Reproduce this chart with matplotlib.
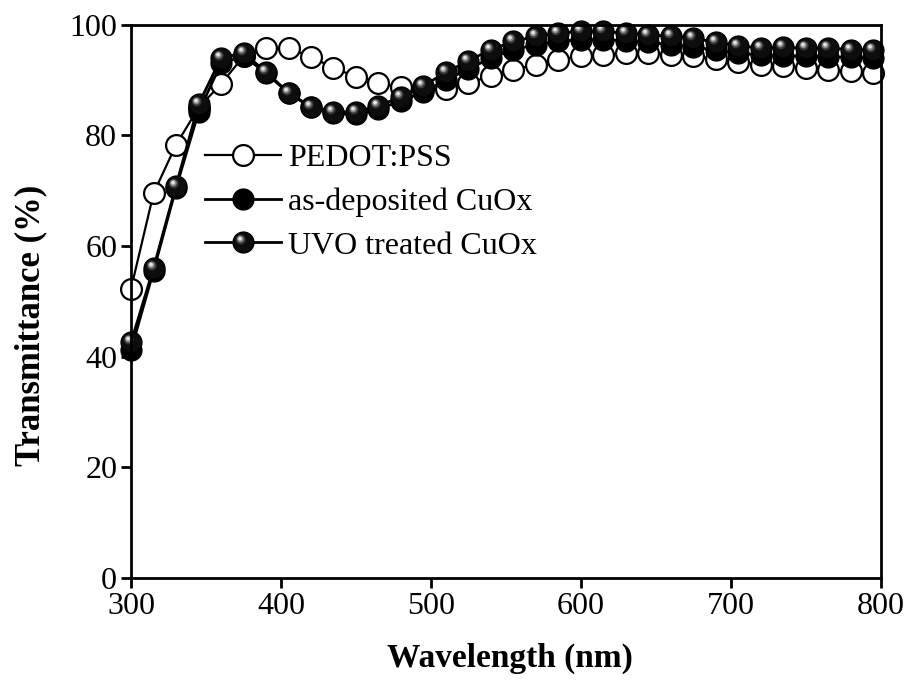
import numpy as np
import matplotlib
matplotlib.use("Agg")
import matplotlib.pyplot as plt
from matplotlib.path import Path
from matplotlib.markers import MarkerStyle
from matplotlib.legend_handler import HandlerTuple

plt.rcParams['font.family'] = ['Liberation Serif', 'DejaVu Serif']

wavelength = np.arange(300, 800, 15)  # 300 ... 795 nm, one marker every 15 nm

pedot = [52.3, 69.5, 78.3, 85.0, 89.3, 94.3, 95.8, 95.8, 94.2, 92.2, 90.6, 89.4,
         88.7, 88.4, 88.4, 89.5, 90.7, 91.9, 92.8, 93.7, 94.3, 94.6, 94.9, 94.9,
         94.6, 94.3, 93.8, 93.2, 92.8, 92.5, 92.2, 91.9, 91.6, 91.3]

as_deposited = [41.2, 55.5, 70.5, 84.2, 93.0, 94.3, 91.3, 87.6, 85.1, 84.0, 83.8, 84.8,
                86.2, 87.9, 90.0, 92.0, 94.0, 95.5, 96.4, 97.0, 97.3, 97.3, 97.1, 96.8,
                96.4, 96.0, 95.4, 94.9, 94.5, 94.4, 94.3, 94.2, 94.1, 94.0]

uvo_treated = [42.6, 56.0, 70.9, 85.6, 94.0, 94.9, 91.5, 87.7, 85.2, 84.3, 84.2, 85.4,
               86.9, 89.0, 91.4, 93.5, 95.5, 97.0, 97.9, 98.5, 98.8, 98.8, 98.5, 98.2,
               97.9, 97.6, 96.8, 96.2, 95.8, 95.9, 95.8, 95.8, 95.5, 95.5]

labels = ['PEDOT:PSS', 'as-deposited CuOx', 'UVO treated CuOx']


def highlight_marker(cx, cy, r):
    circ = Path.circle((cx, cy), r)
    verts = np.vstack([[[1.0, 0.0]], circ.vertices])
    codes = np.concatenate([[Path.MOVETO], circ.codes])
    return MarkerStyle(Path(verts, codes))


hl_outer = highlight_marker(-0.26, 0.28, 0.46)
hl_mid = highlight_marker(-0.30, 0.33, 0.32)
hl_inner = highlight_marker(-0.33, 0.37, 0.18)

fig = plt.figure(figsize=(9.10, 6.88), dpi=100)
ax = fig.add_axes([0.144, 0.160, 0.824, 0.804])

ms = 15
h1, = ax.plot(wavelength, pedot, '-o', color='black', lw=1.6, ms=ms,
              mfc='white', mec='black', mew=1.6, zorder=2, clip_on=False)
h2, = ax.plot(wavelength, as_deposited, '-o', color='black', lw=2.0, ms=ms,
              mfc='black', mec='black', mew=1.0, zorder=3, clip_on=False)
h3, = ax.plot(wavelength, uvo_treated, '-o', color='black', lw=2.0, ms=ms,
              mfc='#0d0d0d', mec='black', mew=1.0, zorder=4, clip_on=False)
h3a, = ax.plot(wavelength, uvo_treated, ls='none', marker=hl_outer, ms=ms,
               mfc='#3a3a3a', mew=0, zorder=5, clip_on=False)
h3b, = ax.plot(wavelength, uvo_treated, ls='none', marker=hl_mid, ms=ms,
               mfc='#8a8a8a', mew=0, zorder=6, clip_on=False)
h3c, = ax.plot(wavelength, uvo_treated, ls='none', marker=hl_inner, ms=ms,
               mfc='#e2e2e2', mew=0, zorder=7, clip_on=False)

ax.set_xlim(300, 800)
ax.set_ylim(0, 100)
ax.set_xticks([300, 400, 500, 600, 700, 800])
ax.set_yticks([0, 20, 40, 60, 80, 100])
for s in ax.spines.values():
    s.set_linewidth(2.0)
    s.set_zorder(10)
ax.tick_params(direction='out', length=7, width=2.0, labelsize=23, pad=3)

ax.set_xlabel('Wavelength (nm)', fontsize=24, fontweight='bold')
ax.xaxis.set_label_coords(0.505, -0.118)
ax.set_ylabel('Transmittance (%)', fontsize=25, fontweight='bold')
ax.yaxis.set_label_coords(-0.112, 0.457)

leg = ax.legend([h1, h2, (h3, h3a, h3b, h3c)], labels,
                handler_map={tuple: HandlerTuple(ndivide=1)},
                loc='upper left', bbox_to_anchor=(0.098, 0.785),
                frameon=False, fontsize=23, handlelength=2.4,
                handletextpad=0.2, labelspacing=0.45, borderpad=0,
                borderaxespad=0, numpoints=1)

fig.savefig('out.png', dpi=100)
